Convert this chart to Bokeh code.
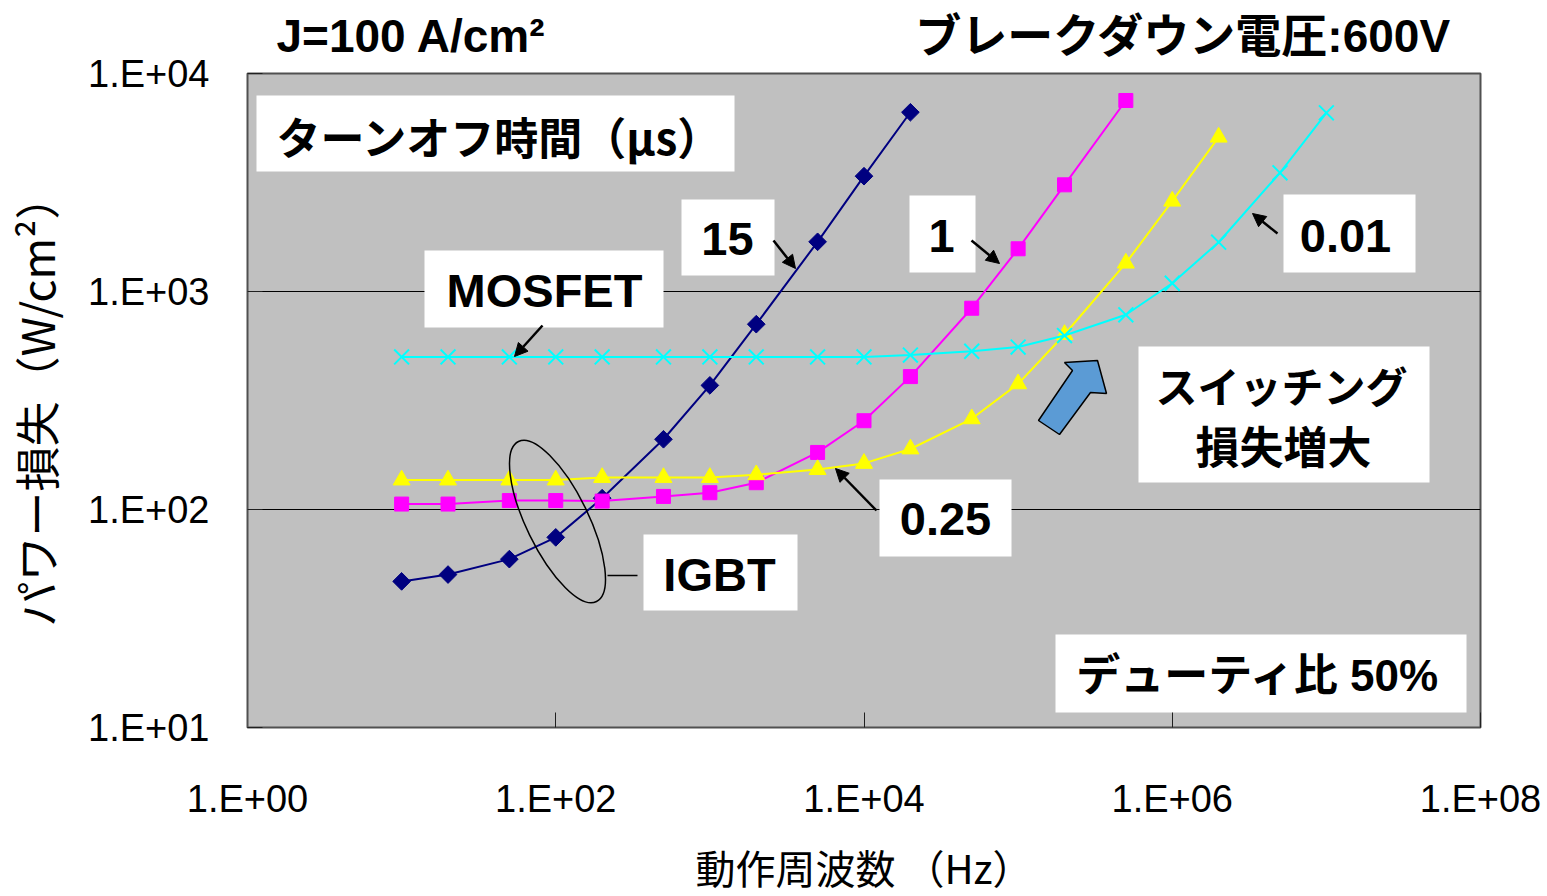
from bokeh.plotting import figure
from bokeh.models import FixedTicker, Label, Arrow, NormalHead
from bokeh.embed import file_html
from bokeh.resources import INLINE

# ---------------- data ----------------
freq_hz = [10, 20, 50, 100, 200, 500, 1e3, 2e3, 5e3, 1e4, 2e4, 5e4, 1e5, 2e5, 5e5, 1e6, 2e6, 5e6, 1e7]
igbt_15us = [46.8, 50.3, 59.2, 74.5, 112.7, 210, 371, 708, 1690, 3380, 6640]
igbt_1us = [105.9, 105.9, 109.9, 109.9, 109.3, 114.8, 119.4, 132.7, 182.7, 255.4, 407, 838, 1570, 3085, 7520]
igbt_025us = [136.5, 136.5, 136.5, 136.5, 140.2, 140.2, 140.2, 144.3, 152.4, 162.7, 189.5, 260.6, 377, 635,
              1349, 2596, 5104]
mosfet_001us = [501, 501, 501, 501, 501, 501, 501, 501, 501, 501, 511, 532, 556, 628, 782, 1091, 1683, 3502, 6600]

x_ticks = [1, 100, 1e4, 1e6, 1e8]
x_tick_labels = ["1.E+00", "1.E+02", "1.E+04", "1.E+06", "1.E+08"]
y_ticks = [10, 100, 1000, 10000]
y_tick_labels = ["1.E+01", "1.E+02", "1.E+03", "1.E+04"]

header_left = "J=100 A/cm²"
header_right = "ブレークダウン電圧:600V"

series = [
    (igbt_15us, "#000080", "diamond"),
    (igbt_1us, "#FF00FF", "square"),
    (igbt_025us, "#FFFF00", "triangle"),
    (mosfet_001us, "#00FFFF", "x"),
]

LAT = "Liberation Sans"
CJK = "Noto Sans CJK JP"
MIX = "Liberation Sans, Noto Sans CJK JP"

# page offset of the figure observed in the screenshot, and frame geometry (figure px)
OX, OY = 3, 1
FL, FT, FW, FH = 243, 72, 1233, 654
W, H = 1540, 893

p = figure(x_axis_type="log", y_axis_type="log", x_range=(1, 1e8), y_range=(10, 1e4),
           frame_width=FW, frame_height=FH, min_border_left=FL, min_border_right=W - FL - FW,
           min_border_top=FT, min_border_bottom=H - FT - FH,
           output_backend="svg", toolbar_location=None,
           background_fill_color="#C0C0C0", border_fill_color="white")

p.outline_line_color = "#505050"
p.outline_line_width = 2
p.xgrid.grid_line_color = None
p.ygrid.grid_line_color = "black"
p.ygrid.grid_line_width = 1

p.xaxis.ticker = FixedTicker(ticks=x_ticks, minor_ticks=[])
p.yaxis.ticker = FixedTicker(ticks=y_ticks, minor_ticks=[])
p.xaxis.major_label_overrides = dict(zip(x_ticks, x_tick_labels))
p.yaxis.major_label_overrides = dict(zip(y_ticks, y_tick_labels))
for ax in (p.xaxis, p.yaxis):
    ax.axis_line_color = "#505050"
    ax.major_tick_in = 15
    ax.major_tick_out = 0
    ax.major_tick_line_color = "#202020"
    ax.minor_tick_line_color = None
    ax.major_label_text_font = LAT
    ax.major_label_text_font_size = "38px"
    ax.major_label_text_color = "black"
    ax.axis_label_text_font = CJK
    ax.axis_label_text_font_style = "normal"
    ax.axis_label_text_color = "black"
p.xaxis.major_label_standoff = 50
p.yaxis.major_label_standoff = 38
p.xaxis.axis_label = "動作周波数 （Hz）"
p.xaxis.axis_label_text_font_size = "40px"
p.xaxis.axis_label_standoff = 15
p.yaxis.axis_label = "パワー損失（W/cm²）"
p.yaxis.axis_label_text_font_size = "45px"
p.yaxis.axis_label_standoff = 17

# header line above the plot area (two texts on one title line)
p.title.text = header_left + "\u00a0" * 29 + header_right
p.title.text_font = MIX
p.title.text_font_size = "46px"
p.title.text_font_style = "bold"
p.title.text_color = "black"
p.title.align = "left"
p.title.offset = 275 - OX - FL
p.title.vertical_align = "top"
p.title.standoff = 19


# helpers: reference page pixel -> data coordinate (for annotation placement)
def dx(px):
    return 10 ** ((px - OX - FL) / (FW / 8))


def dy(py):
    return 10 ** (1 + (FT + FH - (py - OY)) / (FH / 3))


# ---------------- series ----------------
for vals, col, mk in series:
    xs = freq_hz[:len(vals)]
    p.line(xs, vals, line_color=col, line_width=2)
    if mk == "diamond":
        p.scatter(xs, vals, marker="square", size=12.5, angle=45, angle_units="deg",
                  fill_color=col, line_color=col)
    elif mk == "x":
        p.scatter(xs, vals, marker="x", size=21, line_color=col, line_width=2)
    elif mk == "triangle":
        p.scatter(xs, vals, marker="triangle", size=17, fill_color=col, line_color=col)
    else:
        p.scatter(xs, vals, marker=mk, size=14, fill_color=col, line_color=col)

# ---------------- annotation boxes ----------------
boxes = [
    (255, 95, 733, 171),    # turn-off time
    (680, 199, 773, 275),   # 15
    (423, 250, 662, 327),   # MOSFET
    (908, 195, 974, 272),   # 1
    (1282, 194, 1414, 272), # 0.01
    (878, 479, 1010, 556),  # 0.25
    (642, 534, 796, 610),   # IGBT
    (1137, 346, 1428, 482), # switching loss
    (1054, 634, 1465, 712), # duty
]
p.quad(left=[dx(b[0]) for b in boxes], right=[dx(b[2]) for b in boxes],
       top=[dy(b[1]) for b in boxes], bottom=[dy(b[3]) for b in boxes],
       fill_color="white", line_color=None)

# IGBT ellipse and connector
p.ellipse(x=[dx(556)], y=[dy(521)], width=178, height=62, angle=-64, angle_units="deg",
          width_units="screen", height_units="screen", fill_alpha=0, line_color="black", line_width=1.5)
p.segment(x0=[dx(606)], y0=[dy(575)], x1=[dx(636)], y1=[dy(575)], line_color="black", line_width=1.5)

# blue block arrow
arrow_px = [(1096, 360), (1105, 393), (1089, 392), (1058, 434), (1037, 420), (1071, 370), (1063, 362)]
p.patch([dx(a[0]) for a in arrow_px], [dy(a[1]) for a in arrow_px],
        fill_color="#5B9BD5", line_color="black", line_width=1.5)

# pointer arrows
for (x0, y0, x1, y1) in [(772, 240, 794, 268), (541, 325, 513, 356), (970, 240, 998, 263),
                         (1276, 233, 1251, 213), (875, 510, 834, 468)]:
    p.add_layout(Arrow(end=NormalHead(size=13, fill_color="black", line_color="black", line_width=1),
                       x_start=dx(x0), y_start=dy(y0), x_end=dx(x1), y_end=dy(y1),
                       line_color="black", line_width=2.5))

# ---------------- texts ----------------
texts = [
    ("ターンオフ時間（μs）", 275, 135, CJK, "44px", "left"),
    ("15", 726, 238, LAT, "47px", "center"),
    ("MOSFET", 543, 290, LAT, "47px", "center"),
    ("1", 940, 235, LAT, "47px", "center"),
    ("0.01", 1344, 235, LAT, "47px", "center"),
    ("0.25", 944, 518, LAT, "47px", "center"),
    ("IGBT", 718, 574, LAT, "47px", "center"),
    ("スイッチング", 1280, 384, CJK, "42px", "center"),
    ("損失増大", 1282, 444, CJK, "44px", "center"),
    ("デューティ比 50%", 1257, 675, MIX, "44px", "center"),
]
for t, x, y, f, s, al in texts:
    p.add_layout(Label(x=dx(x), y=dy(y), text=t, text_font=f, text_font_size=s,
                       text_font_style="bold", text_align=al, text_baseline="middle",
                       text_color="black"))

open("out.html", "w").write(file_html(p, INLINE))
